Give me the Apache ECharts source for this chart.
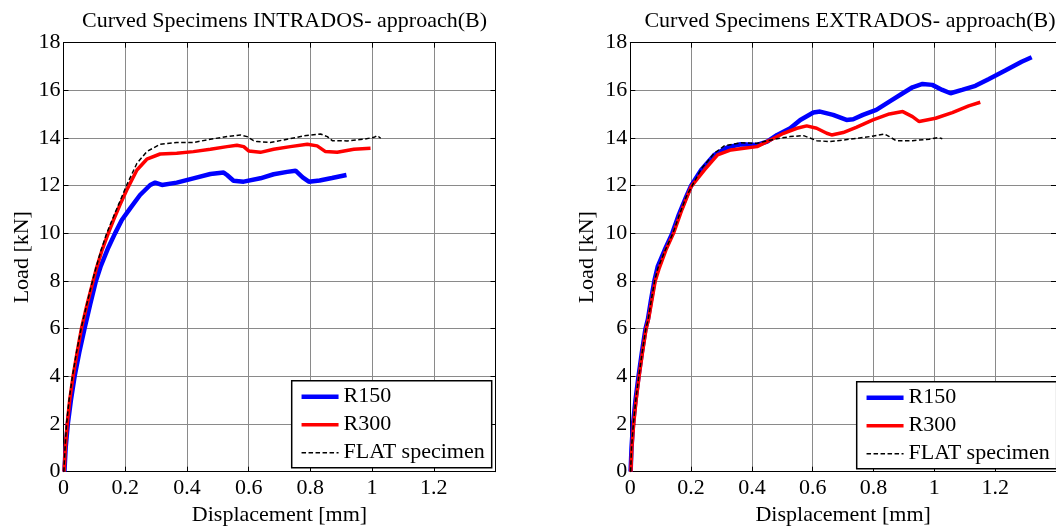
<!DOCTYPE html>
<html>
<head>
<meta charset="utf-8">
<script src="https://cdn.jsdelivr.net/npm/echarts@6/dist/echarts.min.js"></script>
<style>html,body{margin:0;padding:0;background:#fff}#c{width:1056px;height:532px}</style>
</head>
<body>
<div id="c"></div>
<script>
// ---- Data (Displacement [mm], Load [kN]) ----
const titles = ['Curved Specimens INTRADOS- approach(B)', 'Curved Specimens EXTRADOS- approach(B)'];
const seriesNames = ['R150', 'R300', 'FLAT specimen'];
const xTicksMax = 1.4;
const yTicksMax = 18;

const intradosR150 = [[0.003,0],[0.007,1],[0.014,2],[0.024,3],[0.036,4],[0.051,5],[0.068,6],[0.086,7],[0.105,8],[0.12,8.6],[0.145,9.4],[0.167,10],[0.189,10.56],[0.216,11.05],[0.248,11.61],[0.281,12.03],[0.297,12.13],[0.319,12.03],[0.367,12.13],[0.421,12.31],[0.476,12.49],[0.519,12.55],[0.53,12.45],[0.551,12.21],[0.584,12.17],[0.638,12.31],[0.681,12.48],[0.725,12.58],[0.752,12.63],[0.775,12.35],[0.795,12.17],[0.83,12.22],[0.87,12.32],[0.917,12.45]];
const intradosR300 = [[0.002,0],[0.006,1],[0.012,2],[0.02,3],[0.031,4],[0.044,5],[0.058,6],[0.076,7],[0.096,8],[0.106,8.5],[0.125,9.3],[0.145,10],[0.162,10.56],[0.183,11.2],[0.205,11.82],[0.238,12.66],[0.27,13.11],[0.313,13.33],[0.367,13.36],[0.421,13.43],[0.476,13.53],[0.53,13.64],[0.562,13.7],[0.584,13.64],[0.6,13.46],[0.638,13.4],[0.681,13.53],[0.735,13.64],[0.79,13.74],[0.822,13.67],[0.849,13.43],[0.887,13.4],[0.941,13.53],[0.995,13.57]];
const intradosFlat = [[0.001,0],[0.005,1],[0.01,2],[0.018,3],[0.029,4],[0.042,5],[0.057,6],[0.075,7],[0.094,8],[0.104,8.5],[0.122,9.3],[0.14,10],[0.162,10.7],[0.205,12.03],[0.238,12.94],[0.27,13.43],[0.313,13.74],[0.367,13.81],[0.421,13.81],[0.476,13.95],[0.53,14.06],[0.573,14.13],[0.595,14.06],[0.616,13.89],[0.627,13.85],[0.67,13.81],[0.725,13.95],[0.779,14.09],[0.833,14.17],[0.855,14.06],[0.871,13.89],[0.919,13.88],[0.973,13.95],[1.006,14.03],[1.017,14.1],[1.028,13.99]];

const extradosR150 = [[0.001,0],[0.004,1],[0.009,2],[0.017,3],[0.027,4],[0.038,5],[0.05,6],[0.058,6.4],[0.068,7.2],[0.079,8],[0.09,8.6],[0.113,9.3],[0.138,10],[0.16,10.8],[0.184,11.54],[0.2,12.0],[0.233,12.66],[0.276,13.29],[0.32,13.61],[0.363,13.74],[0.417,13.71],[0.45,13.85],[0.483,14.13],[0.526,14.41],[0.559,14.76],[0.602,15.07],[0.624,15.11],[0.667,14.97],[0.711,14.76],[0.733,14.79],[0.765,14.97],[0.809,15.18],[0.852,15.53],[0.896,15.88],[0.928,16.13],[0.961,16.27],[0.993,16.23],[1.026,16.02],[1.053,15.88],[1.091,16.02],[1.135,16.19],[1.178,16.47],[1.233,16.83],[1.287,17.2],[1.32,17.39]];
const extradosR300 = [[0.002,0],[0.005,1],[0.011,2],[0.019,3],[0.029,4],[0.04,5],[0.052,6],[0.06,6.4],[0.071,7.2],[0.082,8],[0.094,8.5],[0.117,9.3],[0.142,10],[0.17,11.0],[0.2,11.96],[0.244,12.66],[0.287,13.29],[0.331,13.5],[0.374,13.57],[0.417,13.64],[0.461,13.92],[0.504,14.2],[0.548,14.41],[0.58,14.51],[0.613,14.41],[0.646,14.2],[0.662,14.13],[0.7,14.23],[0.743,14.45],[0.798,14.76],[0.852,15.01],[0.896,15.11],[0.928,14.9],[0.95,14.69],[1.004,14.83],[1.059,15.07],[1.113,15.35],[1.151,15.5]];
const extradosFlat = [[0.001,0],[0.004,1],[0.01,2],[0.018,3],[0.028,4],[0.039,5],[0.051,6],[0.059,6.4],[0.069,7.2],[0.08,8],[0.091,8.55],[0.115,9.3],[0.14,10],[0.162,10.8],[0.184,11.54],[0.233,12.7],[0.276,13.36],[0.309,13.67],[0.363,13.8],[0.417,13.78],[0.472,13.95],[0.526,14.06],[0.57,14.1],[0.591,14.0],[0.613,13.89],[0.657,13.85],[0.722,13.95],[0.787,14.06],[0.836,14.17],[0.852,14.06],[0.874,13.89],[0.928,13.89],[0.983,13.95],[1.015,14.02],[1.026,13.97]];

// ---- Styling ----
const FONT = "'Liberation Serif', 'Times New Roman', serif";
const FS = 22;
const styles = [
  {color:'#0000ff', width:4.5, type:'solid'},
  {color:'#ff0000', width:3.5, type:'solid'},
  {color:'#000000', width:1.5, type:[4.5,2.5]}
];
const grids = [
  {left:63.5, top:42.7, width:432, height:429},
  {left:630.3, top:42.7, width:429.4, height:429}
];
const panelData = [[intradosR150, intradosR300, intradosFlat],[extradosR150, extradosR300, extradosFlat]];

const xAxes = [], yAxes = [], series = [], titleOpts = [], legends = [];
grids.forEach((g, i) => {
  const base = {gridIndex:i, type:'value', min:0, max:xTicksMax, interval:0.2};
  xAxes.push(Object.assign({}, base, {
    position:'bottom',
    name:'Displacement [mm]', nameLocation:'middle', nameGap:29,
    nameTextStyle:{fontFamily:FONT, fontSize:FS, color:'#000'},
    axisLine:{show:true, onZero:false, lineStyle:{color:'#000', width:1}},
    axisTick:{show:true, inside:true, length:5, lineStyle:{color:'#000'}},
    axisLabel:{show:true, fontFamily:FONT, fontSize:FS, color:'#000', margin:6, showMaxLabel:false,
      formatter: v => (Math.abs(v - xTicksMax) < 1e-6 ? '' : String(+v.toFixed(1)))},
    splitLine:{show:true, lineStyle:{color:'#8a8a8a', width:1}}
  }));
  xAxes.push(Object.assign({}, base, {
    position:'top',
    axisLine:{show:true, onZero:false, lineStyle:{color:'#000', width:1}},
    axisTick:{show:true, inside:true, length:5, lineStyle:{color:'#000'}},
    axisLabel:{show:false}, splitLine:{show:false}
  }));
  const ybase = {gridIndex:i, type:'value', min:0, max:yTicksMax, interval:2};
  yAxes.push(Object.assign({}, ybase, {
    position:'left',
    name:'Load [kN]', nameLocation:'middle', nameGap: i === 0 ? 30 : 32,
    nameTextStyle:{fontFamily:FONT, fontSize:FS, color:'#000'},
    axisLine:{show:true, onZero:false, lineStyle:{color:'#000', width:1}},
    axisTick:{show:true, inside:true, length:5, lineStyle:{color:'#000'}},
    axisLabel:{show:true, fontFamily:FONT, fontSize:FS, color:'#000', margin:3},
    splitLine:{show:true, lineStyle:{color:'#8a8a8a', width:1}}
  }));
  yAxes.push(Object.assign({}, ybase, {
    position:'right',
    axisLine:{show:true, onZero:false, lineStyle:{color:'#000', width:1}},
    axisTick:{show:true, inside:true, length:5, lineStyle:{color:'#000'}},
    axisLabel:{show:false}, splitLine:{show:false}
  }));
  panelData[i].forEach((d, k) => {
    series.push({
      type:'line', name:seriesNames[k], xAxisIndex:i*2, yAxisIndex:i*2, data:d,
      symbol:'none', showSymbol:false, smooth:false, animation:false,
      z: 3 + k,
      lineStyle:{color:styles[k].color, width:styles[k].width, type:styles[k].type},
      itemStyle:{color:styles[k].color}
    });
  });
  titleOpts.push({
    text:titles[i], left: g.left + g.width/2, top:5, textAlign:'center',
    textStyle:{fontFamily:FONT, fontSize:FS, fontWeight:'normal', color:'#000'}
  });
});

legends.push({
  left:291.7, top:380.7, orient:'vertical', z:20,
  padding:[5,7,4,7.6], itemGap:6, itemWidth:37, itemHeight:14,
  borderColor:'#000', borderWidth:1.5, backgroundColor:'#fff',
  textStyle:{fontFamily:FONT, fontSize:FS, color:'#000', lineHeight:22},
  itemStyle:{opacity:0},
  selectedMode:false,
  data: seriesNames.map((n,k) => ({name:n, lineStyle:{width:styles[k].width, type:styles[k].type, color:styles[k].color}}))
});
legends.push(Object.assign({}, legends[0], {left:856.7, top:381.7}));

const chart = echarts.init(document.getElementById('c'), null, {renderer:'canvas'});
chart.setOption({
  animation:false,
  backgroundColor:'#fff',
  title:titleOpts,
  grid:grids,
  xAxis:xAxes,
  yAxis:yAxes,
  legend:legends,
  series:series
});
</script>
</body>
</html>
